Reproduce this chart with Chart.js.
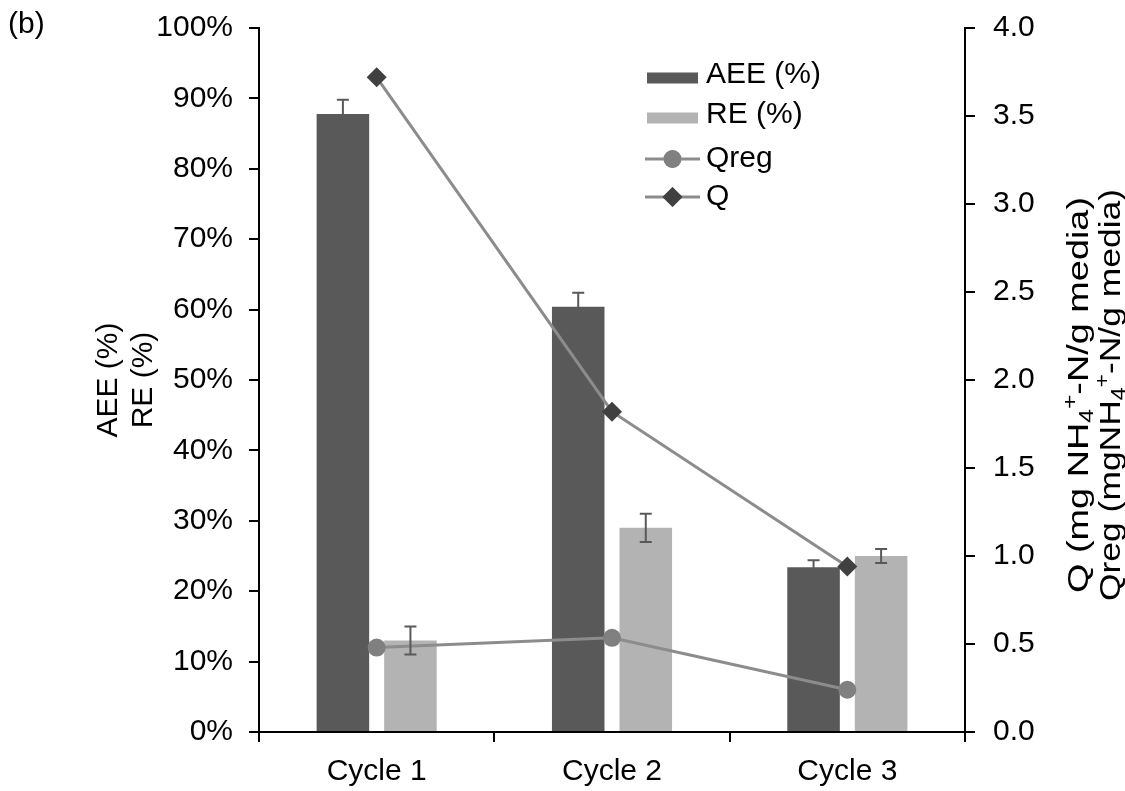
<!DOCTYPE html>
<html>
<head>
<meta charset="utf-8">
<script src="https://cdn.jsdelivr.net/npm/chart.js@4.4.1/dist/chart.umd.min.js"></script>
<style>
  html, body { margin: 0; padding: 0; background: #ffffff; }
  #wrap { position: relative; width: 1125px; height: 791px; }
</style>
</head>
<body>
<div id="wrap"><canvas id="chart"></canvas></div>
<script>
// Regeneration cycles and measured results
const categories = ['Cycle 1', 'Cycle 2', 'Cycle 3'];
const aee = [87.8, 60.4, 23.4];      // AEE (%)
const aeeErr = [2.0, 2.0, 1.0];
const re = [13.0, 29.0, 25.0];       // RE (%)
const reErr = [2.0, 2.0, 1.0];
const qreg = [0.48, 0.535, 0.24];    // mg NH4+-N / g media
const q = [3.72, 1.82, 0.94];        // mg NH4+-N / g media

const leftTickStep = 10;   // percent axis
const rightTickStep = 0.5; // capacity axis

const FONT = "'Liberation Sans', Arial, Helvetica, sans-serif";
const FS = 30;

const COL_AEE = '#595959';
const COL_RE = '#b3b3b3';
const COL_LINE = '#8c8c8c';
const COL_QREG = '#808080';
const COL_Q = '#404040';
const COL_ERR = '#595959';

// draw a run of text pieces (normal / sub / sup) centred on the origin;
// the optional length stretches the run along its baseline
function richText(ctx, runs, size, length) {
  const pieces = runs.map(r => {
    const s = (r.sub || r.sup) ? size * 0.65 : size;
    ctx.font = s + 'px ' + FONT;
    return { t: r.t, s, w: ctx.measureText(r.t).width, dy: r.sub ? size * 0.16 : (r.sup ? -size * 0.38 : 0) };
  });
  const total = pieces.reduce((a, p) => a + p.w, 0);
  if (length) ctx.scale(length / total, 1);
  let x = -total / 2;
  ctx.textAlign = 'left';
  ctx.textBaseline = 'alphabetic';
  pieces.forEach(p => {
    ctx.font = p.s + 'px ' + FONT;
    ctx.fillText(p.t, x, p.dy);
    x += p.w;
  });
}

const decorations = {
  id: 'decorations',
  afterDatasetsDraw(chart) {
    const ctx = chart.ctx;
    const yL = chart.scales.y;

    // error bars on the bar series
    const errs = { 0: aeeErr, 1: reErr };
    Object.keys(errs).forEach(di => {
      const meta = chart.getDatasetMeta(+di);
      const vals = chart.data.datasets[di].data;
      meta.data.forEach((el, i) => {
        const x = el.x;
        const top = yL.getPixelForValue(vals[i] + errs[di][i]);
        const bot = yL.getPixelForValue(vals[i] - errs[di][i]);
        ctx.save();
        ctx.strokeStyle = COL_ERR;
        ctx.lineWidth = 2;
        ctx.beginPath();
        ctx.moveTo(x, top); ctx.lineTo(x, bot);
        ctx.moveTo(x - 6, top); ctx.lineTo(x + 6, top);
        ctx.moveTo(x - 6, bot); ctx.lineTo(x + 6, bot);
        ctx.stroke();
        ctx.restore();
      });
    });
  },
  afterDraw(chart) {
    const ctx = chart.ctx;
    const ds = chart.data.datasets;
    ctx.save();
    ctx.fillStyle = '#000';

    // panel label
    ctx.font = FS + 'px ' + FONT;
    ctx.textAlign = 'left';
    ctx.textBaseline = 'alphabetic';
    ctx.fillText('(b)', 8, 33);

    // legend inside the plot
    const lx = 647, lw = 51, tx = 706;
    const rows = [75, 115, 159, 197];
    ctx.fillStyle = ds[0].backgroundColor;
    ctx.fillRect(lx, rows[0] - 5.5 + 3, lw, 11);
    ctx.fillStyle = ds[1].backgroundColor;
    ctx.fillRect(lx, rows[1] - 5.5 + 3, lw, 11);
    [2, 3].forEach((di, k) => {
      const y = rows[2 + k];
      ctx.strokeStyle = ds[di].borderColor;
      ctx.lineWidth = 3;
      ctx.beginPath(); ctx.moveTo(lx - 2, y); ctx.lineTo(lx + lw + 2, y); ctx.stroke();
      Chart.helpers.drawPoint(ctx, {
        pointStyle: ds[di].pointStyle, radius: ds[di].pointRadius, borderWidth: 0
      }, lx + lw / 2, y);
      ctx.fillStyle = ds[di].pointBackgroundColor;
      ctx.fill();
    });
    ctx.fillStyle = '#000';
    ctx.font = FS + 'px ' + FONT;
    ctx.textAlign = 'left';
    ctx.textBaseline = 'middle';
    ds.forEach((d, i) => ctx.fillText(d.label, tx, rows[i]));

    // left axis titles
    const leftTitles = [[{ t: 'AEE (%)' }], [{ t: 'RE (%)' }]];
    [117, 152].forEach((bx, i) => {
      ctx.save();
      ctx.translate(bx, 380);
      ctx.rotate(-Math.PI / 2);
      richText(ctx, leftTitles[i], FS);
      ctx.restore();
    });

    // right axis titles
    const rightTitles = [
      [{ t: 'Q (mg NH' }, { t: '4', sub: true }, { t: '+', sup: true }, { t: '-N/g media)' }],
      [{ t: 'Qreg (mgNH' }, { t: '4', sub: true }, { t: '+', sup: true }, { t: '-N/g media)' }]
    ];
    const rightLen = [396, 412];
    [1088, 1120].forEach((bx, i) => {
      ctx.save();
      ctx.translate(bx, 395);
      ctx.rotate(-Math.PI / 2);
      richText(ctx, rightTitles[i], FS, rightLen[i]);
      ctx.restore();
    });
    ctx.restore();
  }
};

const axisGrid = {
  display: true,
  drawOnChartArea: false,
  drawTicks: true,
  tickLength: 10,
  color: '#000',
  lineWidth: 2
};
const axisBorder = { display: true, color: '#000', width: 2 };
const tickFont = { family: FONT, size: FS };

// fixed axis box sizes so the plot area sits where the frame expects it
function fixVertical(width) {
  return s => { s.width = width; s.paddingTop = 0; s.paddingBottom = 0; };
}

new Chart(document.getElementById('chart'), {
  type: 'bar',
  data: {
    labels: categories,
    datasets: [
      { type: 'bar', label: 'AEE (%)', data: aee, yAxisID: 'y', backgroundColor: COL_AEE,
        categoryPercentage: 0.574, barPercentage: 0.778, order: 2 },
      { type: 'bar', label: 'RE (%)', data: re, yAxisID: 'y', backgroundColor: COL_RE,
        categoryPercentage: 0.574, barPercentage: 0.778, order: 2 },
      { type: 'line', label: 'Qreg', data: qreg, yAxisID: 'y1', borderColor: COL_LINE, borderWidth: 3,
        pointStyle: 'circle', pointRadius: 9, pointBackgroundColor: COL_QREG, pointBorderWidth: 0,
        pointBorderColor: COL_QREG, tension: 0, order: 1 },
      { type: 'line', label: 'Q', data: q, yAxisID: 'y1', borderColor: COL_LINE, borderWidth: 3,
        pointStyle: 'rectRot', pointRadius: 10, pointBackgroundColor: COL_Q, pointBorderWidth: 0,
        pointBorderColor: COL_Q, tension: 0, order: 0 }
    ]
  },
  options: {
    responsive: true,
    maintainAspectRatio: false,
    animation: false,
    layout: { padding: { top: 28, left: 0, right: 0, bottom: 0 } },
    plugins: { legend: { display: false }, tooltip: { enabled: false } },
    scales: {
      x: {
        offset: true,
        grid: Object.assign({ offset: true }, axisGrid),
        border: axisBorder,
        ticks: { font: tickFont, color: '#000', padding: 12 },
        afterFit(s) { s.height = 59; s.paddingLeft = 0; s.paddingRight = 0; }
      },
      y: {
        position: 'left',
        min: 0, max: 100,
        grid: axisGrid,
        border: axisBorder,
        ticks: { stepSize: leftTickStep, font: tickFont, color: '#000', padding: 16,
                 callback: v => v + '%' },
        afterFit: fixVertical(259)
      },
      y1: {
        position: 'right',
        min: 0, max: 4,
        grid: axisGrid,
        border: axisBorder,
        ticks: { stepSize: rightTickStep, font: tickFont, color: '#000', padding: 18,
                 callback: v => v.toFixed(1) },
        afterFit: fixVertical(160)
      }
    }
  },
  plugins: [decorations]
});
</script>
</body>
</html>
